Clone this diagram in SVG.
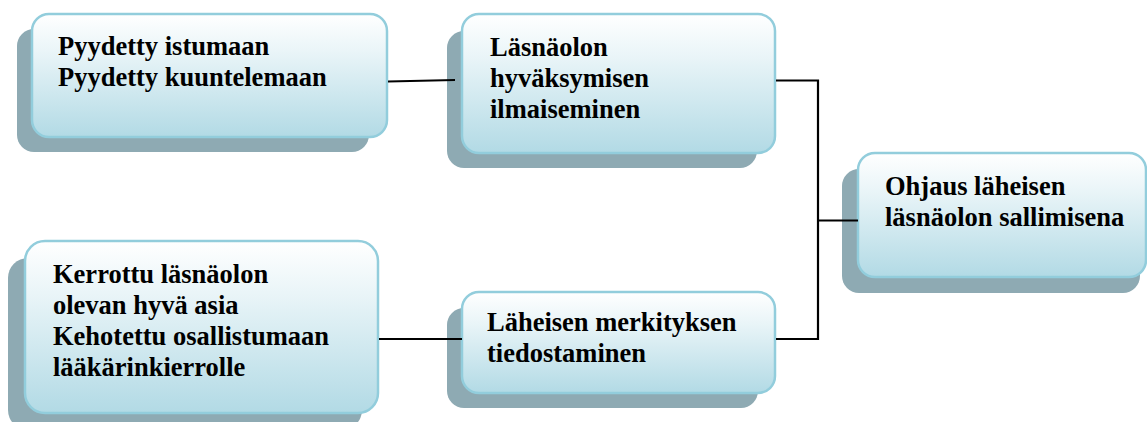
<svg xmlns="http://www.w3.org/2000/svg" width="1147" height="422" viewBox="0 0 1147 422">
  <defs>
    <linearGradient id="boxFill" x1="0" y1="0" x2="0" y2="1">
      <stop offset="0" stop-color="#ffffff"/>
      <stop offset="0.3" stop-color="#eaf5f8"/>
      <stop offset="1" stop-color="#b2dae5"/>
    </linearGradient>
    <style>
      .shadow { fill: #8eaab3; }
      .box { fill: url(#boxFill); stroke: #92cddc; stroke-width: 2.5; }
      .label { font-family: "Liberation Serif", "Times New Roman", serif; font-weight: bold; font-size: 26.5px; fill: #000000; }
      .link { fill: none; stroke: #000000; stroke-width: 2.2; }
    </style>
  </defs>

  <rect width="1147" height="422" fill="#ffffff"/>

  <!-- Left column, top -->
  <g id="node-pyydetty">
    <rect class="shadow" x="17" y="29" width="352" height="123" rx="17"/>
    <rect class="box" x="32" y="14" width="355" height="123" rx="17"/>
    <text class="label" x="58" y="55">Pyydetty istumaan</text>
    <text class="label" x="58" y="86">Pyydetty kuuntelemaan</text>
  </g>

  <!-- Middle column, top -->
  <g id="node-lasnaolon">
    <rect class="shadow" x="447" y="31" width="310" height="137" rx="17"/>
    <rect class="box" x="462" y="14" width="313" height="139" rx="17"/>
    <text class="label" x="490" y="56">Läsnäolon</text>
    <text class="label" x="490" y="87">hyväksymisen</text>
    <text class="label" x="490" y="118">ilmaiseminen</text>
  </g>

  <!-- Right column -->
  <g id="node-ohjaus">
    <rect class="shadow" x="842" y="169" width="298" height="124" rx="17"/>
    <rect class="box" x="858" y="153" width="288" height="124" rx="17"/>
    <text class="label" x="885" y="195">Ohjaus läheisen</text>
    <text class="label" x="885" y="226">läsnäolon sallimisena</text>
  </g>

  <!-- Left column, bottom -->
  <g id="node-kerrottu">
    <rect class="shadow" x="8" y="258" width="354" height="172" rx="20"/>
    <rect class="box" x="25" y="241" width="353" height="172" rx="20"/>
    <text class="label" x="53" y="283">Kerrottu läsnäolon</text>
    <text class="label" x="53" y="314">olevan hyvä asia</text>
    <text class="label" x="53" y="345">Kehotettu osallistumaan</text>
    <text class="label" x="53" y="376">lääkärinkierrolle</text>
  </g>

  <!-- Middle column, bottom -->
  <g id="node-laheisen">
    <rect class="shadow" x="447" y="308" width="311" height="100" rx="17"/>
    <rect class="box" x="462" y="292" width="313" height="101" rx="17"/>
    <text class="label" x="487" y="331">Läheisen merkityksen</text>
    <text class="label" x="487" y="362">tiedostaminen</text>
  </g>

  <!-- Connectors -->
  <g id="connectors">
    <path class="link" d="M388 81.5 L455 80"/>
    <path class="link" d="M379 339 L462 339"/>
    <path class="link" d="M776 80.5 H818 V339 H776"/>
    <path class="link" d="M818 220.5 H858"/>
  </g>
</svg>
